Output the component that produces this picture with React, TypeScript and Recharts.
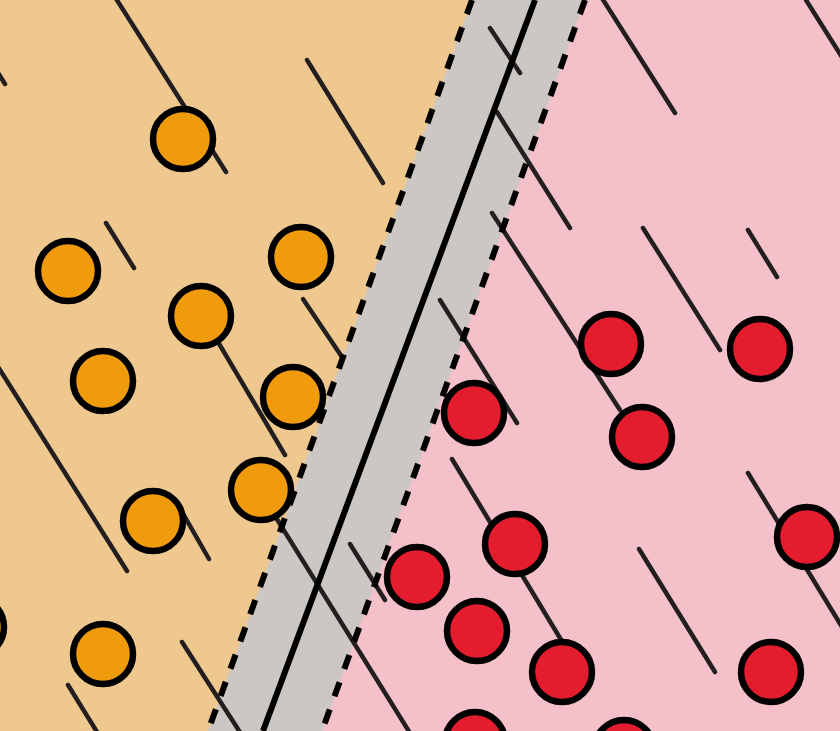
import React from "react";
import {
  ComposedChart, Area, Scatter, XAxis, YAxis, ReferenceLine,
} from "recharts";

const W = 840;
const H = 731;

// separating line and the two margin lines, [x, y] at top and bottom
const hyperplane = [[535, 0], [263, 731]];
const marginLow  = [[472, 0], [208, 731]];
const marginHigh = [[585, 0], [322, 731]];

// class points
const orangePts = [
  [-26, 627], [183, 139], [68, 271], [301, 257], [201, 316],
  [103, 381], [293, 397], [261, 490], [153, 521], [103, 654],
];
const redPts = [
  [611, 344], [760, 349], [474, 413], [642, 437], [515, 544], [807, 537],
  [417, 577], [477, 631], [562, 672], [771, 672], [475, 742], [624, 750],
];

// background strokes [x1, y1, x2, y2]
const strokes = [
  [-15, 52, 5, 84], [115, -3, 226, 172], [307, 60, 383, 183], [106, 223, 134, 268],
  [303, 299, 342, 357], [205, 320, 285, 455], [-5, 362, 127, 571], [178, 505, 209, 559],
  [182, 642, 245, 740], [68, 685, 102, 740], [265, 500, 410, 733], [350, 544, 385, 600],
  [490, 28, 520, 73], [497, 112, 570, 228], [600, -5, 675, 113], [806, 0, 850, 70],
  [492, 213, 620, 410], [643, 228, 720, 350], [748, 230, 777, 277], [440, 300, 517, 423],
  [452, 459, 566, 648], [639, 549, 715, 672], [748, 473, 850, 640],
];

const regionRows = [
  { x: 0, orange: H },
  { x: marginLow[1][0], orange: H },
  { x: marginHigh[1][0], pink: H },
  { x: marginLow[0][0], orange: 0 },
  { x: marginHigh[0][0], pink: 0 },
  { x: W, pink: 0 },
];

const toXY = (pts: number[][]) => pts.map(([x, y]) => ({ x, y }));

const ink = "#231f20";

function dot(fill: string) {
  return (p: any) => (
    <circle cx={p.cx} cy={p.cy} r={30} fill={fill} stroke="#000" strokeWidth={6.5} />
  );
}

export default function App() {
  return (
    <div style={{ position: "absolute", left: 0, top: 0, width: W, height: H, background: "#cdc7c4" }}>
      <ComposedChart width={W} height={H} data={regionRows} margin={{ top: 0, right: 0, bottom: 0, left: 0 }}>
        <XAxis type="number" dataKey="x" domain={[0, W]} hide allowDataOverflow />
        <YAxis type="number" dataKey="y" domain={[0, H]} reversed hide allowDataOverflow />
        <Area
          type="linear" dataKey="orange" connectNulls
          fill="#efc88f" fillOpacity={1} stroke="none" baseValue={0}
          isAnimationActive={false} dot={false} activeDot={false}
        />
        <Area
          type="linear" dataKey="pink" connectNulls
          fill="#f4c0c9" fillOpacity={1} stroke="none" baseValue={H}
          isAnimationActive={false} dot={false} activeDot={false}
        />
        {strokes.map(([x1, y1, x2, y2], i) => (
          <ReferenceLine
            key={"s" + i}
            segment={[{ x: x1, y: y1 }, { x: x2, y: y2 }]}
            stroke={ink} strokeWidth={4.5} strokeLinecap="round" ifOverflow="visible"
          />
        ))}
        <ReferenceLine
          segment={toXY(marginLow)} stroke="#000" strokeWidth={6}
          strokeDasharray="15 14" ifOverflow="visible"
        />
        <ReferenceLine
          segment={toXY(marginHigh)} stroke="#000" strokeWidth={6}
          strokeDasharray="15 14" ifOverflow="visible"
        />
        <ReferenceLine segment={toXY(hyperplane)} stroke="#000" strokeWidth={6} ifOverflow="visible" />
        <Scatter data={toXY(orangePts)} shape={dot("#f09b0c")} isAnimationActive={false} />
        <Scatter data={toXY(redPts)} shape={dot("#e31d2d")} isAnimationActive={false} />
      </ComposedChart>
    </div>
  );
}
